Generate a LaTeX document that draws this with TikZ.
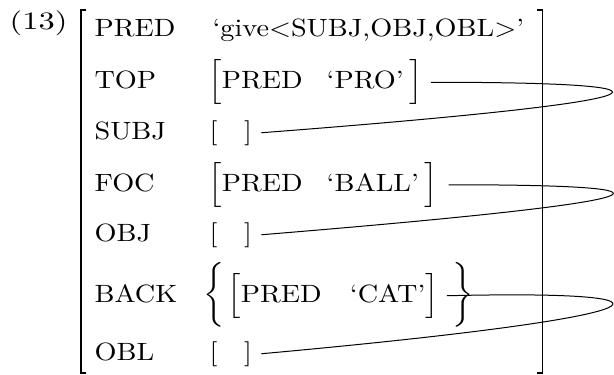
\documentclass[tikz,border=0pt]{standalone}
\usepackage{amsmath}

\begin{document}
\begin{tikzpicture}[x=0.4pt, y=-0.4pt,
    attr/.style={anchor=base west, inner sep=0pt, xscale=1.13},
    val/.style={anchor=base west, inner sep=0pt, xscale=1.13},
    brk/.style={line width=0.55pt},
    link/.style={line width=0.4pt}]
    \useasboundingbox (0,0) rectangle (614,374);

    % example number
    \node[val, xscale=1.15] (num) at (9,29.5) {(13)};

    % outer brackets
    \draw[brk] (86,10) -| (81,373) -- (86,373);
    \draw[brk] (537,10) -| (542.5,373) -- (537,373);

    % attributes
    \foreach \nm/\t/\y in {apred/PRED/36, atop/TOP/88.5, asubj/SUBJ/139, afoc/FOC/191, aobj/OBJ/241, aback/BACK/302, aobl/OBL/360} {
      \node[attr] (\nm) at (94,\y) {\t};
    }

    % values
    \node[val] (vpred) at (212,36) {‘give$<$SUBJ,OBJ,OBL$>$’};
    \node[val] (vtop) at (208,88.5) {$\Big[$PRED\hspace{0.85em}‘PRO’\hspace{0.2em}$\Big]$};
    \node[val] (vsubj) at (209,139) {[\hspace{0.95em}]};
    \node[val] (vfoc) at (208,191) {$\Big[$PRED\hspace{0.85em}‘BALL’\hspace{0.2em}$\Big]$};
    \node[val] (vobj) at (209,241) {[\hspace{0.95em}]};
    \node[val, yscale=1.08] (lbrace) at (203,302) {$\bigg\{$};
    \node[val] (vback) at (227,302) {$\Big[$PRED\hspace{1.0em}‘CAT’$\Big]$};
    \node[val, yscale=1.08] (rbrace) at (452,302) {$\bigg\}$};
    \node[val] (vobl) at (209,360) {[\hspace{0.95em}]};

    % structure sharing
    \draw[link] ([xshift=3pt]vtop.east) .. controls +(269,0) and +(430,-33) .. ([xshift=3.5pt]vsubj.east);
    \draw[link] ([xshift=4pt]vfoc.east) .. controls +(247,0) and +(428,-35) .. ([xshift=3.5pt]vobj.east);
    \draw[link] ([xshift=3pt]vback.east) .. controls +(248,-6) and +(429,-39) .. ([xshift=3.5pt]vobl.east);
\end{tikzpicture}
\end{document}
